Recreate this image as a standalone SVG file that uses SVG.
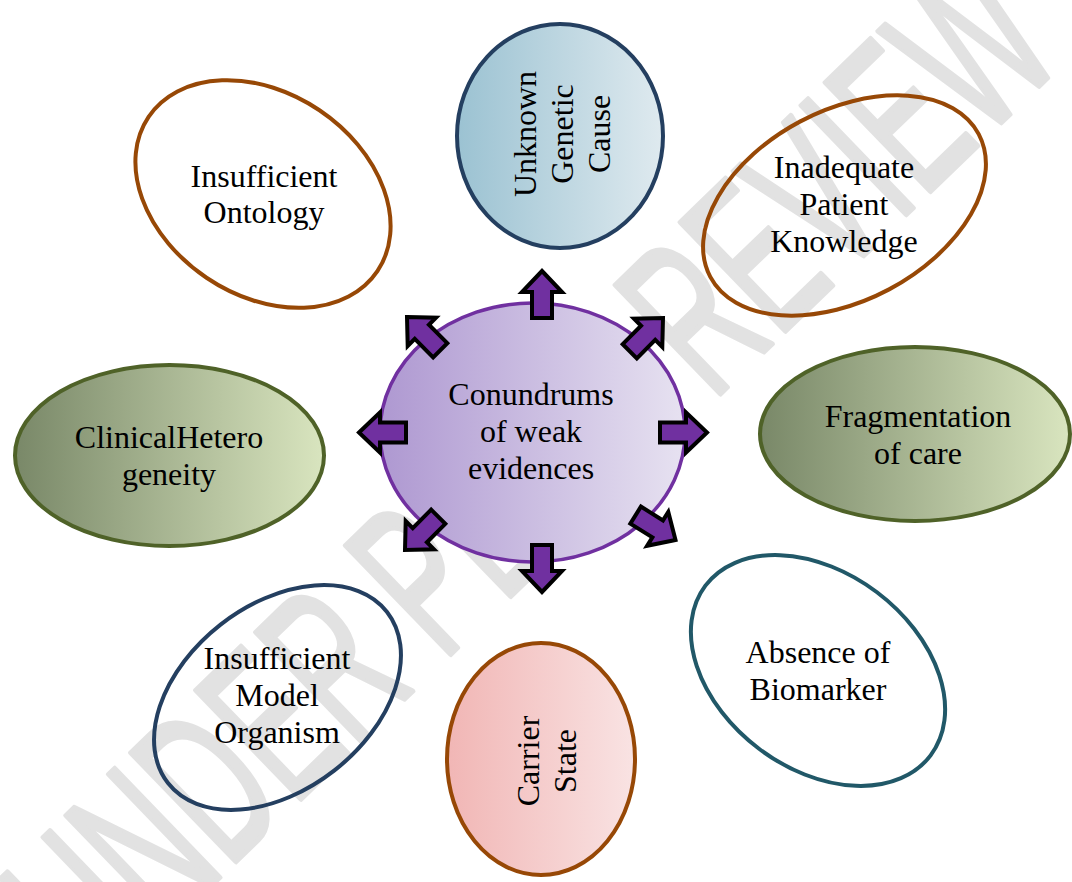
<svg xmlns="http://www.w3.org/2000/svg" width="1072" height="882" viewBox="0 0 1072 882">
<defs>
<style>
.lbl{font-family:"Liberation Serif","Times New Roman",serif;font-size:32px;fill:#000;text-anchor:middle}
.node{stroke-width:4}
.arrow{fill:#7030a0;stroke:#000;stroke-width:4;stroke-linejoin:miter}
.wm{font-family:"Liberation Sans",Arial,sans-serif;font-size:220px;fill:#e2e2e2;stroke:#e2e2e2;stroke-width:5;stroke-linejoin:round}
</style>
<linearGradient id="gPurple" x1="0" y1="0" x2="1" y2="0"><stop offset="0" stop-color="#ae98d1"/><stop offset="1" stop-color="#e7e2f1"/></linearGradient>
<linearGradient id="gBlue" x1="0" y1="0" x2="1" y2="0"><stop offset="0" stop-color="#9bc2d2"/><stop offset="1" stop-color="#dfeaef"/></linearGradient>
<linearGradient id="gGreen" x1="0" y1="0" x2="1" y2="0"><stop offset="0" stop-color="#798868"/><stop offset="1" stop-color="#d9e5bf"/></linearGradient>
<linearGradient id="gPink" x1="0" y1="0" x2="1" y2="0"><stop offset="0" stop-color="#f1b6b5"/><stop offset="1" stop-color="#f9e3e3"/></linearGradient>
<polygon id="arr" points="0,0 20,21 10,21 10,47 -10,47 -10,21 -20,21"/>
</defs>
<rect width="1072" height="882" fill="#fff"/>
<text class="wm" transform="translate(98,995) rotate(-44)" x="0" y="0" textLength="1347" lengthAdjust="spacingAndGlyphs">UNDER PEER REVIEW</text>

<g id="node-ontology">
<ellipse class="node" cx="263" cy="194" rx="138" ry="101" transform="rotate(34 263 194)" fill="none" stroke="#974806"/>
<text class="lbl" x="264"><tspan x="264" y="187">Insufficient</tspan><tspan x="264" y="223">Ontology</tspan></text>
</g>
<g id="node-unknown">
<ellipse class="node" cx="560" cy="136" rx="103" ry="112" fill="url(#gBlue)" stroke="#243f60"/>
<text class="lbl" transform="rotate(-90)"><tspan x="-134" y="536">Unknown</tspan><tspan x="-134" y="573">Genetic</tspan><tspan x="-134" y="610">Cause</tspan></text>
</g>
<g id="node-inadequate">
<ellipse class="node" cx="844.5" cy="205.5" rx="152" ry="95" transform="rotate(-28 844.5 205.5)" fill="none" stroke="#974806"/>
<text class="lbl"><tspan x="844" y="178">Inadequate</tspan><tspan x="844" y="215">Patient</tspan><tspan x="844" y="252">Knowledge</tspan></text>
</g>
<g id="node-fragmentation">
<ellipse class="node" cx="915" cy="434" rx="155" ry="87" fill="url(#gGreen)" stroke="#4f6228"/>
<text class="lbl"><tspan x="918" y="427">Fragmentation</tspan><tspan x="918" y="464">of care</tspan></text>
</g>
<g id="node-clinical">
<ellipse class="node" cx="169.5" cy="455.5" rx="154.5" ry="90.5" fill="url(#gGreen)" stroke="#4f6228"/>
<text class="lbl"><tspan x="169" y="448">ClinicalHetero</tspan><tspan x="169" y="485">geneity</tspan></text>
</g>
<g id="node-biomarker">
<ellipse class="node" cx="818" cy="670.5" rx="141" ry="98" transform="rotate(37 818 670.5)" fill="none" stroke="#215868"/>
<text class="lbl"><tspan x="818" y="663">Absence of</tspan><tspan x="818" y="700">Biomarker</tspan></text>
</g>
<g id="node-carrier">
<ellipse class="node" cx="541" cy="759" rx="94" ry="116" fill="url(#gPink)" stroke="#974806"/>
<text class="lbl" transform="rotate(-90)"><tspan x="-761" y="539">Carrier</tspan><tspan x="-761" y="576">State</tspan></text>
</g>
<g id="node-model">
<ellipse class="node" cx="277.5" cy="697.5" rx="139" ry="92.5" transform="rotate(-38 277.5 697.5)" fill="none" stroke="#243f60"/>
<text class="lbl"><tspan x="277" y="669">Insufficient</tspan><tspan x="277" y="706">Model</tspan><tspan x="277" y="743">Organism</tspan></text>
</g>
<g id="node-center">
<ellipse cx="532.5" cy="432.5" rx="152.5" ry="129.5" fill="url(#gPurple)" stroke="#7030a0" stroke-width="3.5"/>
<text class="lbl"><tspan x="531" y="405">Conundrums</tspan><tspan x="531" y="442">of weak</tspan><tspan x="531" y="479">evidences</tspan></text>
</g>

<g id="connectors">
<use href="#arr" class="arrow" transform="translate(542,271)"/>
<use href="#arr" class="arrow" transform="translate(542,592) rotate(180)"/>
<use href="#arr" class="arrow" transform="translate(707,432.5) rotate(90)"/>
<use href="#arr" class="arrow" transform="translate(359,432.5) rotate(-90)"/>
<use href="#arr" class="arrow" transform="translate(407,317) rotate(-45)"/>
<use href="#arr" class="arrow" transform="translate(663,318) rotate(45)"/>
<use href="#arr" class="arrow" transform="translate(405,550) rotate(225)"/>
<use href="#arr" class="arrow" transform="translate(675.5,540) rotate(122)"/>
</g>
</svg>
